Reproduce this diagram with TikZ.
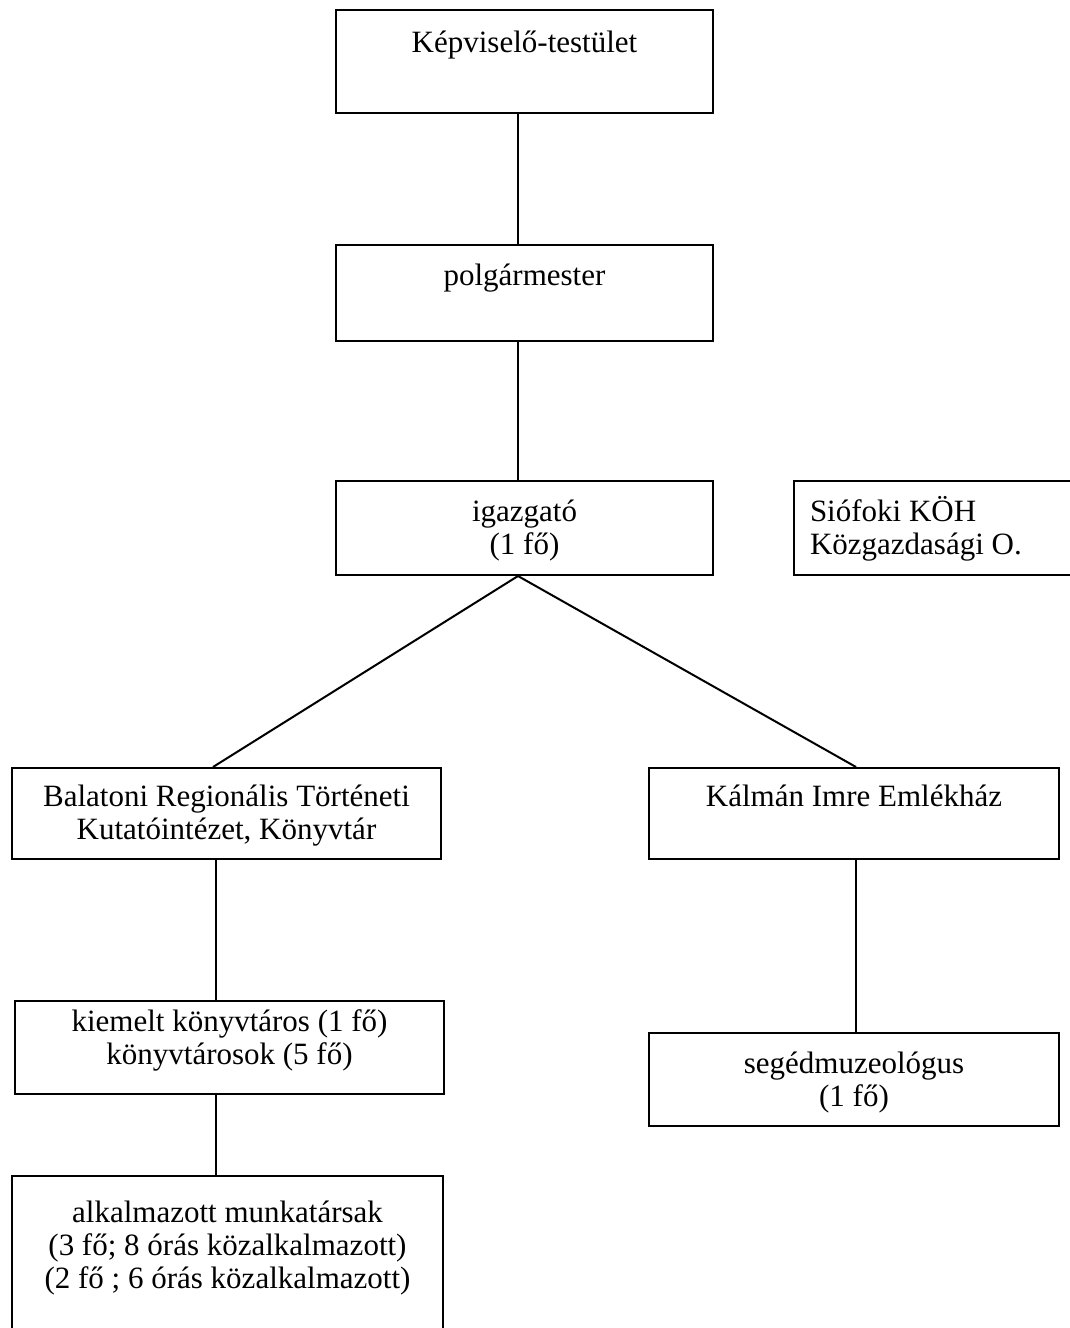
\documentclass[tikz,border=0pt]{standalone}
\usepackage{fontspec}
\setmainfont{Liberation Serif}
\newcommand{\orgtext}[4]{\parbox[t][#2][t]{#1}{\centering\rule{0pt}{#3}#4}}
\newcommand{\orgtextleft}[4]{\parbox[t][#2][t]{#1}{\raggedright\leftskip=8pt\rule{0pt}{#3}#4}}
\begin{document}
\begin{tikzpicture}[x=0.5pt,y=-0.5pt,
  box/.style={draw, line width=1pt, inner sep=0pt, anchor=north west, font=\fontsize{15.5}{16.5}\selectfont},
  conn/.style={line width=1pt}]
\useasboundingbox (0,0) rectangle (1070,1328);
\clip (0,0) rectangle (1070,1328);
\node[box] (b1) at (335,9) {\orgtext{188.5pt}{51.5pt}{21pt}{Képviselő-testület}};
\node[box] (b2) at (335,244) {\orgtext{188.5pt}{48pt}{20pt}{polgármester}};
\node[box] (b3) at (335,480) {\orgtext{188.5pt}{47pt}{20pt}{igazgató\\(1 fő)}};
\node[box] (b4) at (793,480) {\orgtextleft{143.5pt}{47pt}{20pt}{Siófoki KÖH\\Közgazdasági O.}};
\node[box] (b5) at (11,767) {\orgtext{214.5pt}{45.5pt}{19pt}{Balatoni Regionális Történeti\\Kutatóintézet, Könyvtár}};
\node[box] (b6) at (648,767) {\orgtext{205pt}{45.5pt}{19pt}{Kálmán Imre Emlékház}};
\node[box] (b7) at (14,1000) {\orgtext{214.5pt}{46.5pt}{15pt}{kiemelt könyvtáros (1 fő)\\könyvtárosok (5 fő)}};
\node[box] (b8) at (648,1032) {\orgtext{205pt}{46.5pt}{20pt}{segédmuzeológus\\(1 fő)}};
\node[box] (b9) at (11,1175) {\orgtext{215.5pt}{85pt}{23pt}{alkalmazott munkatársak\\(3 fő; 8 órás közalkalmazott)\\(2 fő ; 6 órás közalkalmazott)}};
\draw[conn] ([xshift=-3.25pt]b1.south) -- ([xshift=-3.25pt]b2.north);
\draw[conn] ([xshift=-3.25pt]b2.south) -- ([xshift=-3.25pt]b3.north);
\draw[conn] ([xshift=-3.25pt]b3.south) -- ([xshift=-6.75pt]b5.north);
\draw[conn] ([xshift=-3.25pt]b3.south) -- ([xshift=1pt]b6.north);
\draw[conn] ([xshift=-5.25pt]b5.south) -- ([xshift=-6.75pt]b7.north);
\draw[conn] ([xshift=-6.75pt]b7.south) -- ([xshift=-5.75pt]b9.north);
\draw[conn] ([xshift=1pt]b6.south) -- ([xshift=1pt]b8.north);
\end{tikzpicture}
\end{document}
